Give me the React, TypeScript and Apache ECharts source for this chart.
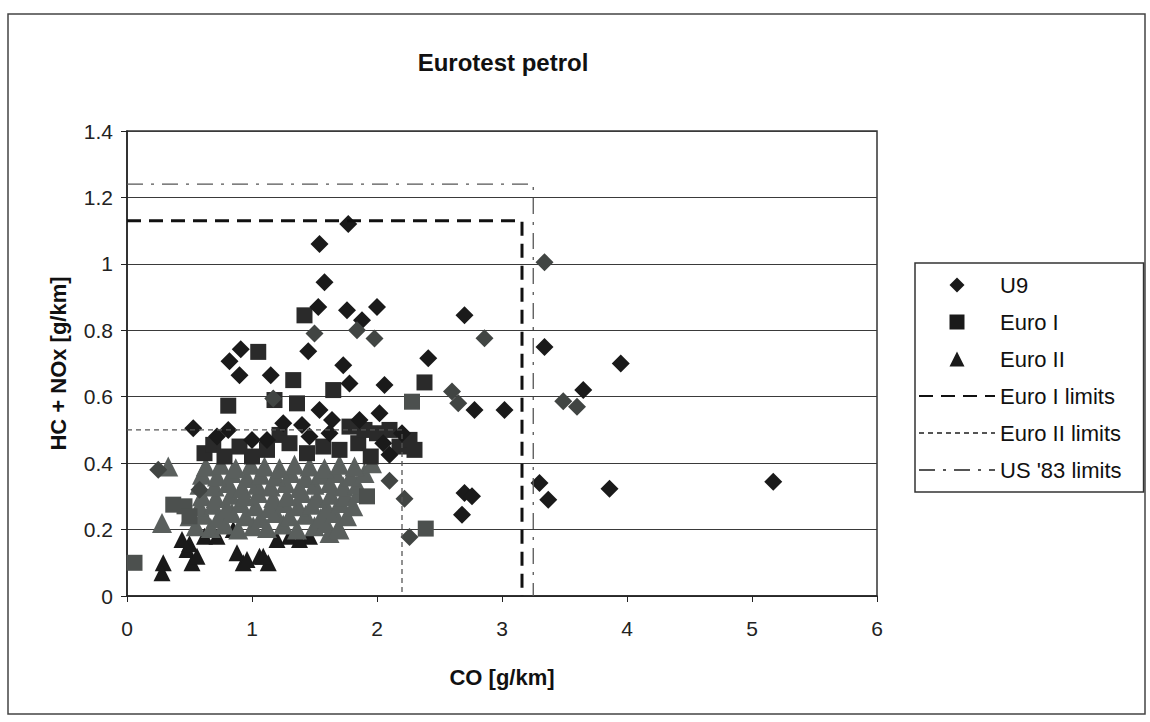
import React, { useEffect, useRef } from "react";
import * as echarts from "echarts";

// ---- data ----
const TITLE = "Eurotest petrol";
const X_NAME = "CO [g/km]";
const Y_NAME = "HC + NOx [g/km]";
const X_MIN = 0, X_MAX = 6, X_STEP = 1;
const Y_MIN = 0, Y_MAX = 1.4, Y_STEP = 0.2;

const U9_DARK: number[][] = [
  [1.77, 1.12], [1.54, 1.06], [1.58, 0.945], [1.53, 0.87], [1.76, 0.86], [2.0, 0.87],
  [1.88, 0.83], [2.7, 0.845], [3.34, 0.75], [1.45, 0.737], [0.91, 0.743], [0.82, 0.707],
  [0.9, 0.665], [1.15, 0.665], [1.73, 0.695], [1.78, 0.64], [2.06, 0.635], [2.41, 0.716],
  [2.78, 0.56], [3.02, 0.56], [3.95, 0.7], [3.65, 0.62], [3.3, 0.34], [3.37, 0.29],
  [3.86, 0.323], [5.17, 0.344], [2.7, 0.31], [2.76, 0.3], [2.68, 0.245], [0.53, 0.505],
  [0.81, 0.5], [1.0, 0.47], [1.4, 0.515], [1.46, 0.48], [1.64, 0.53], [1.54, 0.56],
  [2.02, 0.55], [2.1, 0.425], [1.25, 0.52], [1.62, 0.49], [1.86, 0.53], [2.05, 0.46],
  [0.72, 0.48], [1.12, 0.47], [2.2, 0.49],
];
const U9_GRAY: number[][] = [
  [1.84, 0.8], [1.5, 0.79], [1.98, 0.775], [2.86, 0.776], [3.34, 1.005], [2.6, 0.616],
  [2.65, 0.58], [1.17, 0.595], [3.49, 0.586], [3.6, 0.57], [2.1, 0.347], [2.22, 0.293],
  [2.26, 0.178], [0.25, 0.38], [0.58, 0.32],
];
const EURO1_DARK: number[][] = [
  [1.42, 0.845], [1.05, 0.735], [1.33, 0.65], [1.65, 0.62], [2.38, 0.643], [0.81, 0.573],
  [1.36, 0.58], [1.18, 0.59], [1.22, 0.485], [0.62, 0.43], [0.69, 0.455], [0.78, 0.42],
  [0.9, 0.45], [1.0, 0.42], [1.12, 0.44], [1.3, 0.46], [1.44, 0.43], [1.57, 0.45],
  [1.7, 0.44], [1.78, 0.51], [1.85, 0.46], [1.9, 0.5], [1.95, 0.42], [2.0, 0.49],
  [2.1, 0.5], [2.18, 0.45], [2.26, 0.47], [2.3, 0.44],
];
const EURO1_GRAY: number[][] = [
  [2.28, 0.585], [1.92, 0.3], [2.39, 0.203], [0.06, 0.1], [0.37, 0.275], [0.46, 0.27],
  [0.5, 0.24],
];
const EURO2_DARK: number[][] = [
  [0.29, 0.1], [0.28, 0.07], [0.48, 0.14], [0.52, 0.1], [0.88, 0.13], [0.93, 0.1],
  [1.06, 0.12], [1.13, 0.1], [1.46, 0.18], [0.5, 0.157], [0.56, 0.12], [0.96, 0.11],
  [1.09, 0.12], [0.85, 0.2], [0.44, 0.17], [0.62, 0.18], [0.72, 0.18], [1.2, 0.17],
  [1.3, 0.18], [1.38, 0.17],
];
const EURO2_GRAY: number[][] = [
  [0.33, 0.39], [0.28, 0.22], [1.62, 0.19], [1.7, 0.2],
  [0.55, 0.21], [0.67, 0.205], [0.78, 0.215], [0.89, 0.2], [1.01, 0.21], [1.12, 0.205],
  [1.25, 0.215], [1.36, 0.2], [1.5, 0.21], [1.59, 0.22], [1.69, 0.205],
  [0.5, 0.24], [0.61, 0.245], [0.73, 0.235], [0.84, 0.25], [0.95, 0.24], [1.07, 0.235],
  [1.19, 0.25], [1.3, 0.24], [1.43, 0.245], [1.55, 0.235], [1.66, 0.25], [1.76, 0.24],
  [0.58, 0.27], [0.69, 0.275], [0.8, 0.265], [0.91, 0.28], [1.03, 0.27], [1.14, 0.265],
  [1.26, 0.28], [1.37, 0.27], [1.48, 0.275], [1.6, 0.265], [1.71, 0.28], [1.81, 0.27],
  [0.6, 0.3], [0.71, 0.295], [0.83, 0.305], [0.94, 0.3], [1.05, 0.31], [1.17, 0.295],
  [1.28, 0.3], [1.4, 0.31], [1.52, 0.295], [1.63, 0.305], [1.75, 0.3], [1.85, 0.31],
  [0.58, 0.335], [0.7, 0.33], [0.81, 0.34], [0.92, 0.325], [1.04, 0.335], [1.15, 0.33],
  [1.27, 0.34], [1.38, 0.325], [1.5, 0.335], [1.62, 0.34], [1.73, 0.33], [1.84, 0.335],
  [0.6, 0.365], [0.72, 0.36], [0.84, 0.37], [0.96, 0.355], [1.07, 0.365], [1.19, 0.36],
  [1.31, 0.37], [1.43, 0.355], [1.55, 0.365], [1.67, 0.37], [1.79, 0.36], [1.9, 0.37],
  [0.63, 0.39], [0.75, 0.395], [0.87, 0.385], [0.99, 0.395], [1.1, 0.39], [1.22, 0.385],
  [1.34, 0.395], [1.46, 0.39], [1.58, 0.385], [1.7, 0.395], [1.82, 0.39], [1.96, 0.4],
];
const EURO1_LIMITS: number[][] = [[0, 1.13], [3.16, 1.13], [3.16, 0]];
const EURO2_LIMITS: number[][] = [[0, 0.5], [2.2, 0.5], [2.2, 0]];
const US83_LIMITS: number[][] = [[0, 1.24], [3.25, 1.24], [3.25, 0]];

const NAMES = ["U9", "Euro I", "Euro II", "Euro I limits", "Euro II limits", "US '83 limits"];

const FONT = "'Liberation Sans', Arial, sans-serif";
const DARK = "#1a1a1a";
const ICON_DIAMOND = "path://M0,-1L1,0L0,1L-1,0Z";
const ICON_SQUARE = "path://M-1,-1L1,-1L1,1L-1,1Z";
const ICON_TRIANGLE = "path://M0,-1L1,1L-1,1Z";
const HIDDEN = { color: "rgba(0,0,0,0)", borderColor: "rgba(0,0,0,0)", borderWidth: 0, opacity: 0 };

export default function App() {
  const ref = useRef<HTMLDivElement>(null);
  useEffect(() => {
    if (!ref.current) return;
    const chart = echarts.init(ref.current, null, { renderer: "svg" });
    const scatter = (name: string, data: number[][], symbol: string, size: number, color: string) => ({
      type: "scatter", name, data, symbol, symbolSize: size, silent: true,
      itemStyle: { color, opacity: 1 }, emphasis: { disabled: true },
    });
    const line = (name: string, data: number[][], color: string, width: number, dash: number[]) => ({
      type: "line", name, data, symbol: "none", silent: true,
      lineStyle: { color, width, type: dash }, itemStyle: { color },
      emphasis: { disabled: true },
    });
    chart.setOption({
      animation: false,
      backgroundColor: "#ffffff",
      textStyle: { fontFamily: FONT },
      graphic: [
        { type: "rect", shape: { x: 8, y: 14, width: 1137, height: 700 }, style: { fill: "none", stroke: "#444", lineWidth: 1.5 }, silent: true },
        { type: "text", x: 503, y: 62, style: { text: TITLE, fontFamily: FONT, fontSize: 24, fontWeight: "bold", fill: "#111", align: "center", verticalAlign: "middle", textAlign: "center", textVerticalAlign: "middle" }, silent: true },
      ],
      grid: { left: 127, right: 273, top: 131, bottom: 126, show: true, borderColor: "#333", borderWidth: 1.5, backgroundColor: "#fff" },
      legend: {
        orient: "vertical", left: 915, top: 263,
        padding: [11, 22, 11, 3], itemGap: 15, itemWidth: 76, itemHeight: 15,
        borderColor: "#333", borderWidth: 1.5, backgroundColor: "#fff",
        textStyle: { fontSize: 22, color: "#111", fontFamily: FONT },
        selectedMode: false, symbolKeepAspect: true,
        data: [
          { name: NAMES[0], icon: ICON_DIAMOND, itemStyle: { color: DARK, opacity: 1 } },
          { name: NAMES[1], icon: ICON_SQUARE, itemStyle: { color: DARK, opacity: 1 } },
          { name: NAMES[2], icon: ICON_TRIANGLE, itemStyle: { color: DARK, opacity: 1 } },
          { name: NAMES[3], itemStyle: HIDDEN },
          { name: NAMES[4], itemStyle: HIDDEN },
          { name: NAMES[5], itemStyle: HIDDEN },
        ],
      },
      xAxis: {
        type: "value", min: X_MIN, max: X_MAX, interval: X_STEP,
        name: X_NAME, nameLocation: "middle", nameGap: 70,
        nameTextStyle: { fontSize: 22, fontWeight: "bold", color: "#111", fontFamily: FONT },
        axisLine: { lineStyle: { color: "#222", width: 1.5 } },
        axisTick: { show: true, length: 6, lineStyle: { color: "#222" } },
        axisLabel: { fontSize: 21, color: "#222", margin: 22 },
        splitLine: { show: false },
      },
      yAxis: {
        type: "value", min: Y_MIN, max: Y_MAX, interval: Y_STEP,
        name: Y_NAME, nameLocation: "middle", nameGap: 58, nameRotate: 90,
        nameTextStyle: { fontSize: 22, fontWeight: "bold", color: "#111", fontFamily: FONT },
        axisLine: { show: true, lineStyle: { color: "#222", width: 1.5 } },
        axisTick: { show: true, length: 6, lineStyle: { color: "#222" } },
        axisLabel: { fontSize: 21, color: "#222", margin: 14, formatter: (v: number) => String(Number(v.toFixed(1))) },
        splitLine: { show: true, lineStyle: { color: "#3a3a3a", width: 1.2 } },
      },
      series: [
        line(NAMES[3], EURO1_LIMITS, "#111", 3, [14, 8]),
        line(NAMES[4], EURO2_LIMITS, "#555", 1.3, [5, 4]),
        line(NAMES[5], US83_LIMITS, "#555", 1.3, [16, 8, 3, 8]),
        scatter(NAMES[2], EURO2_DARK, "triangle", 17, DARK),
        scatter(NAMES[2], EURO2_GRAY, "triangle", 20, "#5a5f5d"),
        scatter(NAMES[1], EURO1_DARK, "rect", 16, "#2a2a2a"),
        scatter(NAMES[1], EURO1_GRAY, "rect", 16, "#4c504e"),
        scatter(NAMES[0], U9_DARK, "diamond", 18, DARK),
        scatter(NAMES[0], U9_GRAY, "diamond", 18, "#414543"),
      ],
    });
    return () => chart.dispose();
  }, []);
  return <div ref={ref} style={{ position: "fixed", left: 0, top: 0, width: 1150, height: 722 }} />;
}
